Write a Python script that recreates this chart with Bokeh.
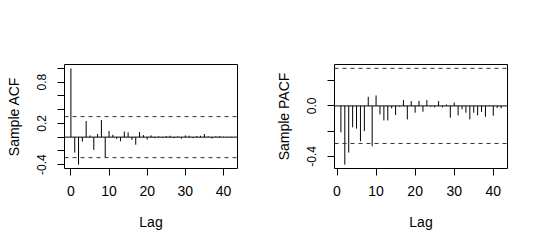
from bokeh.plotting import figure
from bokeh.layouts import row
from bokeh.models import Range1d, FixedTicker, Span
from bokeh.embed import file_html
from bokeh.resources import INLINE

# ---- data ----
acf_lags = list(range(0, 43))
acf_vals = [1.0, -0.225, -0.40, -0.065, 0.235, 0.025, -0.186, 0.045, 0.25, -0.29,
            0.09, 0.035, -0.025, -0.06, 0.08, 0.07, -0.04, -0.11, 0.075, 0.03,
            -0.035, 0.025, -0.015, 0.01, -0.01, 0.015, 0.02, -0.015, 0.01, -0.02,
            0.025, 0.02, -0.015, 0.015, 0.02, 0.045, 0.01, -0.02, 0.01, 0.015,
            0.005, -0.005, 0.005]
pacf_lags = list(range(1, 43))
pacf_vals = [-0.21, -0.466, -0.37, -0.17, -0.18, -0.28, -0.20, 0.072, -0.32, 0.083,
             -0.067, -0.115, -0.115, -0.02, -0.072, -0.005, 0.046, -0.107, 0.038, -0.054,
             0.04, -0.046, 0.046, -0.005, -0.011, 0.038, -0.011, 0.011, -0.094, 0.027,
             -0.075, -0.027, -0.054, -0.107, -0.054, -0.075, -0.048, -0.086, 0.003, -0.078,
             -0.016, -0.019]
conf_limit = 0.298
x_ticks = [0, 10, 20, 30, 40]
acf_yticks = [-0.4, -0.2, 0.0, 0.2, 0.4, 0.6, 0.8, 1.0]
acf_ylabels = {-0.4: "-0.4", 0.2: "0.2", 0.8: "0.8"}
pacf_yticks = [-0.4, -0.2, 0.0, 0.2]
pacf_ylabels = {-0.4: "-0.4", 0.0: "0.0"}

FONT = "Liberation Sans"


def padded(lo, hi, frac=0.04):
    d = (hi - lo) * frac
    return lo - d, hi + d


def make_panel(lags, vals, yticks, ylabels, ylabel):
    xlo, xhi = padded(min(lags), max(lags))
    ylo, yhi = padded(min(min(vals), -conf_limit), max(max(vals), conf_limit))
    p = figure(width=270, height=248, output_backend="svg", toolbar_location=None,
               x_range=Range1d(xlo, xhi), y_range=Range1d(ylo, yhi),
               min_border_left=64, min_border_right=33,
               min_border_top=64, min_border_bottom=80)
    p.background_fill_color = "white"
    p.border_fill_color = "white"
    p.outline_line_color = "black"
    p.outline_line_width = 1
    p.grid.visible = False

    p.segment(x0=lags, y0=[0] * len(lags), x1=lags, y1=vals,
              line_color="black", line_width=1)
    p.add_layout(Span(location=0, dimension="width", line_color="black", line_width=1))
    for s in (conf_limit, -conf_limit):
        p.add_layout(Span(location=s, dimension="width", line_color="#333333",
                          line_width=1, line_dash="4 4"))

    xa = p.xaxis[0]
    xa.ticker = FixedTicker(ticks=x_ticks)
    xa.axis_label = "Lag"
    ya = p.yaxis[0]
    ya.ticker = FixedTicker(ticks=yticks)
    overrides = {}
    for t in yticks:
        overrides[t] = ylabels.get(t, "")
    ya.major_label_overrides = overrides
    ya.major_label_orientation = "vertical"
    ya.axis_label = ylabel

    for ax in (xa, ya):
        ax.axis_line_color = None
        ax.major_tick_line_color = "black"
        ax.major_tick_out = 7
        ax.major_tick_in = 0
        ax.minor_tick_line_color = None
        ax.major_label_text_font = FONT
        ax.major_label_text_color = "black"
        ax.axis_label_text_font = FONT
        ax.axis_label_text_font_style = "normal"
        ax.axis_label_text_color = "black"
    xa.major_label_text_font_size = "14px"
    xa.major_label_standoff = 10
    xa.axis_label_text_font_size = "14px"
    xa.axis_label_standoff = 15
    ya.major_label_text_font_size = "12px"
    ya.major_label_standoff = 11
    ya.axis_label_text_font_size = "14px"
    ya.axis_label_standoff = 13
    return p


p1 = make_panel(acf_lags, acf_vals, acf_yticks, acf_ylabels, "Sample ACF")
p2 = make_panel(pacf_lags, pacf_vals, pacf_yticks, pacf_ylabels, "Sample PACF")
layout = row(p1, p2)

open("out.html", "w").write(file_html(layout, INLINE))
